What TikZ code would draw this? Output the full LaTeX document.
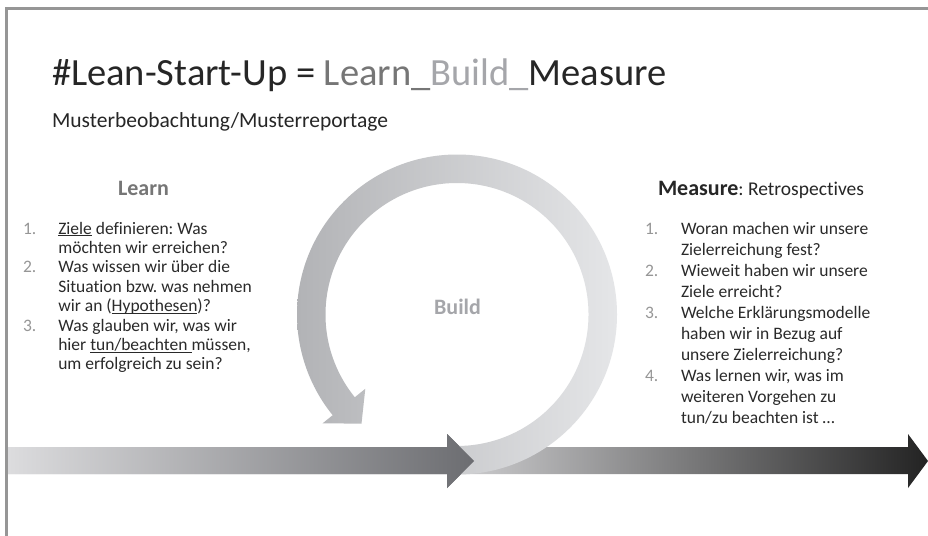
\documentclass[tikz,border=0pt]{standalone}
\usepackage{fontspec}
\setmainfont{Carlito}[Ligatures=NoCommon]
\usetikzlibrary{calc}
\frenchspacing

\definecolor{framegray}{RGB}{150,150,150}
\definecolor{titledark}{RGB}{38,38,38}
\definecolor{learngray}{RGB}{118,118,118}
\definecolor{buildgray}{RGB}{165,166,170}
\definecolor{txtdark}{RGB}{42,42,42}
\definecolor{numgray}{RGB}{150,150,150}
\definecolor{bandAL}{RGB}{220,220,222}
\definecolor{bandAR}{RGB}{108,109,113}
\definecolor{bandBL}{RGB}{205,205,207}
\definecolor{bandBR}{RGB}{35,35,35}
\definecolor{arcL}{RGB}{178,179,182}
\definecolor{arcR}{RGB}{229,230,232}

% underline at a fixed depth below the baseline
\newcommand\undl[1]{\setbox0\hbox{#1}\rlap{\rule[-2.3pt]{\wd0}{0.9pt}}\box0\relax}

\begin{document}
\begin{tikzpicture}[x=1pt,y=1pt,
  plain/.style={inner sep=0pt, outer sep=0pt, anchor=base west},
  ltxt/.style={plain, text=txtdark, font=\fontsize{17.5}{20}\selectfont},
  lnum/.style={ltxt, text=numgray},
  heading/.style={plain, font=\fontsize{22}{26}\selectfont\bfseries}]

\useasboundingbox (0,0) rectangle (928,-535);
\fill[white] (0,0) rectangle (928,-535);

% slide frame
\draw[framegray, line width=2.6pt, line join=miter] (929,-8.6) -- (6.7,-8.6) -- (6.7,-536);

% title and subtitle
\node[plain, font=\fontsize{38.5}{46}\selectfont] (title) at (52,-85)
  {{\color{titledark}\#Lean-Start-Up = }{\color{learngray}Learn\_}{\color{buildgray}Build\_}{\color{titledark}Measure}};
\node[plain, text=titledark, font=\fontsize{21.5}{26}\selectfont] (subtitle) at (52,-127.3)
  {Musterbeobachtung/Musterreportage};

% process band: Learn -> Build
\shade[left color=bandAL, right color=bandAR]
  (8,-447) -- (447,-447) -- (447,-434) -- (474,-461) -- (447,-488) -- (447,-474) -- (8,-474) -- cycle;
% process band: Build -> Measure
\shade[left color=bandBL, right color=bandBR]
  (458,-447) -- (908,-447) -- (908,-434) -- (928,-461) -- (908,-488) -- (908,-474) -- (458,-474) -- cycle;

% Build loop
\coordinate (C) at (457,-314.5);
\shade[left color=arcL, right color=arcR]
  ([shift={(-90:160)}]C) arc[start angle=-90, end angle=219, radius=160]
  -- ([shift={(219:173)}]C)
  -- ([shift={(228.8:145)}]C)
  -- ([shift={(219:118)}]C)
  -- ([shift={(219:131.5)}]C)
  arc[start angle=219, end angle=-90, radius=131.5] -- cycle;

% head of the first band lies above the loop
\shade[left color=bandAL, right color=bandAR]
  (8,-447) -- (447,-447) -- (447,-434) -- (474,-461) -- (447,-488) -- (447,-474) -- (8,-474) -- cycle;

\node[heading, anchor=base, text=buildgray] (build) at (457.5,-314.5) {Build};

% Learn column
\node[heading, anchor=base, text=learngray] (learn) at (143.5,-195) {Learn};
\node[lnum] (ln1) at (23,-234) {1.};
\node[ltxt] (la1) at (58.3,-234) {\undl{Ziele} definieren: Was};
\node[ltxt] (la2) at (58.3,-253.4) {möchten wir erreichen?};
\node[lnum] (ln2) at (23,-272.8) {2.};
\node[ltxt] (lb1) at (58.3,-272.8) {Was wissen wir über die};
\node[ltxt] (lb2) at (58.3,-292.2) {Situation bzw. was nehmen};
\node[ltxt] (lb3) at (58.3,-311.6) {wir an (\undl{Hypothesen})?};
\node[lnum] (ln3) at (23,-331) {3.};
\node[ltxt] (lc1) at (58.3,-331) {Was glauben wir, was wir};
\node[ltxt] (lc2) at (58.3,-350.4) {hier \undl{tun/beachten }müssen,};
\node[ltxt] (lc3) at (58.3,-369.8) {um erfolgreich zu sein?};

% Measure column
\node[heading, text=titledark] (measure) at (658,-195)
  {Measure{\mdseries\fontsize{19.5}{24}\selectfont: Retrospectives}};
\node[lnum] (rn1) at (645,-234) {1.};
\node[ltxt] (ra1) at (681,-234) {Woran machen wir unsere};
\node[ltxt] (ra2) at (681,-255.1) {Zielerreichung fest?};
\node[lnum] (rn2) at (645,-276.2) {2.};
\node[ltxt] (rb1) at (681,-276.2) {Wieweit haben wir unsere};
\node[ltxt] (rb2) at (681,-297.3) {Ziele erreicht?};
\node[lnum] (rn3) at (645,-318.4) {3.};
\node[ltxt] (rc1) at (681,-318.4) {Welche Erklärungsmodelle};
\node[ltxt] (rc2) at (681,-339.5) {haben wir in Bezug auf};
\node[ltxt] (rc3) at (681,-360.6) {unsere Zielerreichung?};
\node[lnum] (rn4) at (645,-381.7) {4.};
\node[ltxt] (rd1) at (681,-381.7) {Was lernen wir, was im};
\node[ltxt] (rd2) at (681,-402.8) {weiteren Vorgehen zu};
\node[ltxt] (rd3) at (681,-423.9) {tun/zu beachten ist …};

\end{tikzpicture}
\end{document}
